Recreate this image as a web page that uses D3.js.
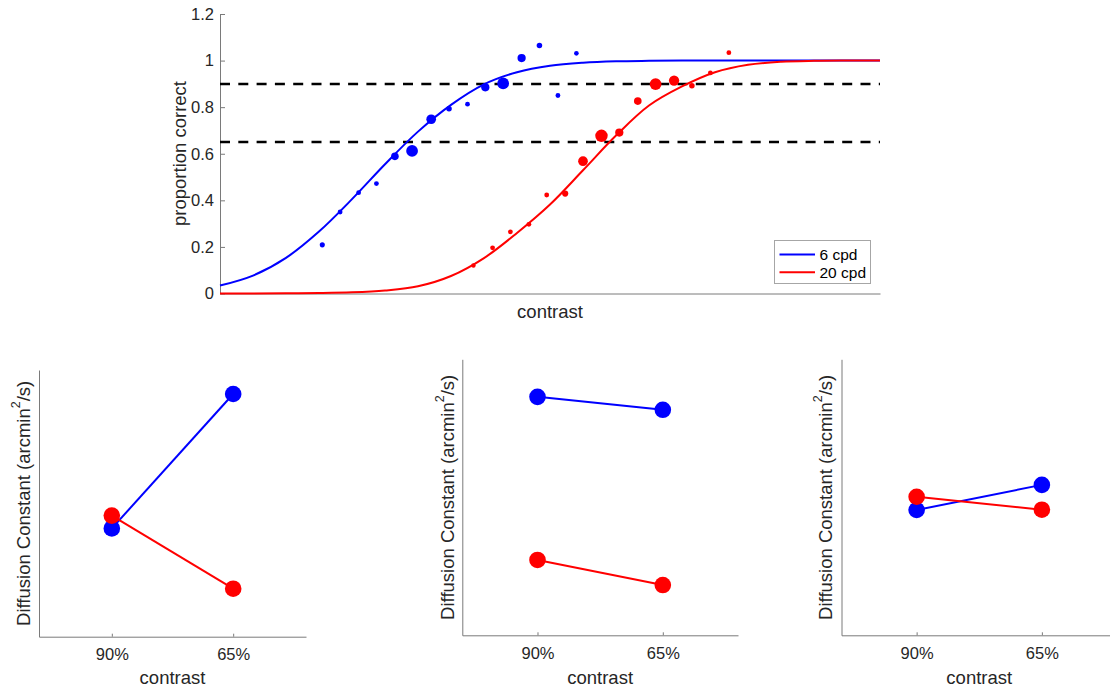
<!DOCTYPE html>
<html><head><meta charset="utf-8">
<script src="https://cdn.jsdelivr.net/npm/d3@7"></script>
<style>
  html,body{margin:0;padding:0;background:#fff;}
  svg{display:block;font-family:"Liberation Sans",Arial,Helvetica,sans-serif;}
</style></head>
<body>
<svg id="fig" width="1110" height="688"></svg>
<script>
// ---- data (contrast axis has no ticks: arbitrary 0..1 units) ----
const fitX  = [0,0.05,0.10,0.15,0.20,0.25,0.30,0.35,0.40,0.45,0.50,0.55,0.60,0.65,0.70,0.75,0.80,0.85,0.90,0.95,1.00];
const fit6  = [0.034,0.077,0.153,0.266,0.405,0.555,0.695,0.810,0.898,0.950,0.978,0.991,0.997,0.999,1,1,1,1,1,1,1];
const fit20 = [0.0001,0.0004,0.001,0.002,0.005,0.013,0.031,0.075,0.152,0.260,0.382,0.529,0.678,0.807,0.889,0.950,0.982,0.995,0.999,1,1];

const dots6X  = [0.155,0.182,0.210,0.237,0.265,0.291,0.320,0.347,0.375,0.402,0.429,0.457,0.484,0.512,0.540];
const dots6Y  = [0.209,0.350,0.433,0.472,0.589,0.612,0.748,0.793,0.813,0.885,0.902,1.011,1.065,0.850,1.031];
const dots6N  = [17,15,15,15,38,90,61,20,15,44,90,44,20,15,14];
const dots20X = [0.384,0.413,0.440,0.468,0.495,0.523,0.550,0.578,0.605,0.633,0.660,0.688,0.715,0.743,0.771];
const dots20Y = [0.120,0.196,0.265,0.297,0.423,0.429,0.568,0.677,0.691,0.826,0.899,0.914,0.892,0.947,1.034];
const dots20N = [13,15,15,15,15,25,61,100,44,38,90,69,20,15,15];

const yTicks = [0,0.2,0.4,0.6,0.8,1,1.2];
const refLevels = [0.9,0.65];
const legendLabels = ['6 cpd','20 cpd'];

// bottom row: diffusion constant per condition (no y ticks: normalised 0..1 per panel)
const condLabels = ['90%','65%'];
const diff6  = [[0.406,0.910],[0.864,0.817],[0.454,0.545]];
const diff20 = [[0.454,0.180],[0.273,0.182],[0.502,0.455]];

(function(){
  const BLUE='#0000ff', RED='#ff0000', AX='#7a7a7a', INK='#262626';
  const svg = d3.select('#fig');

  function styleAxis(g, fs){
    g.select('.domain').attr('stroke',AX);
    g.selectAll('.tick line').attr('stroke',AX);
    g.selectAll('.tick text').attr('fill',INK).style('font-size',fs+'px');
    g.attr('font-family',null);
  }

  // ===== top: psychometric curves =====
  const x = d3.scaleLinear().domain([0,1]).range([220,880]);
  const y = d3.scaleLinear().domain([0,1.2]).range([293.5,14]);
  const r = d3.scaleSqrt().domain([0,100]).range([0,6.2]);

  const top = svg.append('g');
  top.append('g').attr('transform','translate(0,293.5)')
    .call(d3.axisBottom(x).tickValues([]).tickSizeOuter(0)).call(g=>styleAxis(g,16.5));
  top.append('g').attr('transform','translate(220,0)')
    .call(d3.axisLeft(y).tickValues(yTicks).tickFormat(d3.format('~g')).tickSizeInner(-5).tickSizeOuter(0).tickPadding(6))
    .call(g=>styleAxis(g,16.5));

  // reference levels
  top.selectAll('line.ref').data(refLevels).join('line').attr('class','ref')
    .attr('x1',x(0)).attr('x2',x(1)).attr('y1',d=>y(d)).attr('y2',d=>y(d))
    .attr('stroke','#000').attr('stroke-width',2.5).attr('stroke-dasharray','10,8.3');

  const line = d3.line().x(d=>x(d[0])).y(d=>y(Math.min(d[1],1))).curve(d3.curveCatmullRom.alpha(0.5));
  const series = [
    {fit:fit6,  dx:dots6X,  dy:dots6Y,  dn:dots6N,  col:BLUE},
    {fit:fit20, dx:dots20X, dy:dots20Y, dn:dots20N, col:RED}
  ];
  series.forEach(s=>{
    top.append('path').datum(fitX.map((v,i)=>[v,s.fit[i]]))
      .attr('d',line).attr('fill','none').attr('stroke',s.col).attr('stroke-width',2);
  });
  series.forEach(s=>{
    top.selectAll(null).data(s.dx.map((v,i)=>({x:v,y:s.dy[i],n:s.dn[i]}))).join('circle')
      .attr('cx',d=>x(d.x)).attr('cy',d=>y(d.y)).attr('r',d=>r(d.n)).attr('fill',s.col);
  });

  top.append('text').attr('transform','translate(179,153.5) rotate(-90)')
    .attr('text-anchor','middle').attr('dominant-baseline','central')
    .style('font-size','18.5px').attr('fill',INK).text('proportion correct');
  top.append('text').attr('x',550).attr('y',311).attr('text-anchor','middle')
    .attr('dominant-baseline','central').style('font-size','18.5px').attr('fill',INK).text('contrast');

  // legend
  const lg = top.append('g').attr('transform','translate(774.5,240.5)');
  lg.append('rect').attr('width',96).attr('height',43).attr('fill','#fff').attr('stroke','#a6a6a6');
  legendLabels.forEach((t,i)=>{
    const yy = 14 + i*17.7;
    lg.append('line').attr('x1',5).attr('x2',40.5).attr('y1',yy).attr('y2',yy)
      .attr('stroke',series[i].col).attr('stroke-width',2);
    lg.append('text').attr('x',45).attr('y',yy).attr('dominant-baseline','central')
      .style('font-size','15.5px').attr('fill','#000').text(t);
  });

  // ===== bottom: diffusion constant panels =====
  const panels = [
    {x0:39,    x1:306,  y0:370,   y1:636.7, lx:23},
    {x0:462.3, x1:738,  y0:359.3, y1:635.3, lx:446.7},
    {x0:841.5, x1:1117, y0:359.3, y1:635.3, lx:825}
  ];
  panels.forEach((p,k)=>{
    const px = d3.scaleLinear().domain([0.4,2.6]).range([p.x0,p.x1]);
    const py = d3.scaleLinear().domain([0,1]).range([p.y1,p.y0]);
    const g = svg.append('g');
    g.append('g').attr('transform',`translate(0,${p.y1})`)
      .call(d3.axisBottom(px).tickValues([1,2]).tickFormat((d,i)=>condLabels[i]).tickSizeInner(-3).tickSizeOuter(0).tickPadding(12))
      .call(a=>styleAxis(a,16.5));
    g.append('g').attr('transform',`translate(${p.x0},0)`)
      .call(d3.axisLeft(py).tickValues([]).tickSizeOuter(0)).call(a=>styleAxis(a,16.5));

    [[diff6[k],BLUE],[diff20[k],RED]].forEach(([vals,col])=>{
      const pts = vals.map((v,i)=>[px(i+1),py(v)]);
      g.append('path').attr('d',d3.line()(pts)).attr('fill','none').attr('stroke',col).attr('stroke-width',2);
      g.selectAll(null).data(pts).join('circle').attr('cx',d=>d[0]).attr('cy',d=>d[1]).attr('r',8.3).attr('fill',col);
    });

    g.append('text').attr('x',px(1.5)).attr('y',677)
      .attr('text-anchor','middle').attr('dominant-baseline','central')
      .style('font-size','18.5px').attr('fill',INK).text('contrast');
    const yl = g.append('text').attr('transform',`translate(${p.lx},${(p.y0+p.y1)/2}) rotate(-90)`)
      .attr('text-anchor','middle').attr('dominant-baseline','central')
      .style('font-size','18.5px').attr('fill',INK);
    yl.append('tspan').text('Diffusion Constant (arcmin');
    yl.append('tspan').attr('dy',-7).style('font-size','12.5px').text('2');
    yl.append('tspan').attr('dy',7).text('/s)');
  });
})();
</script>
</body></html>
